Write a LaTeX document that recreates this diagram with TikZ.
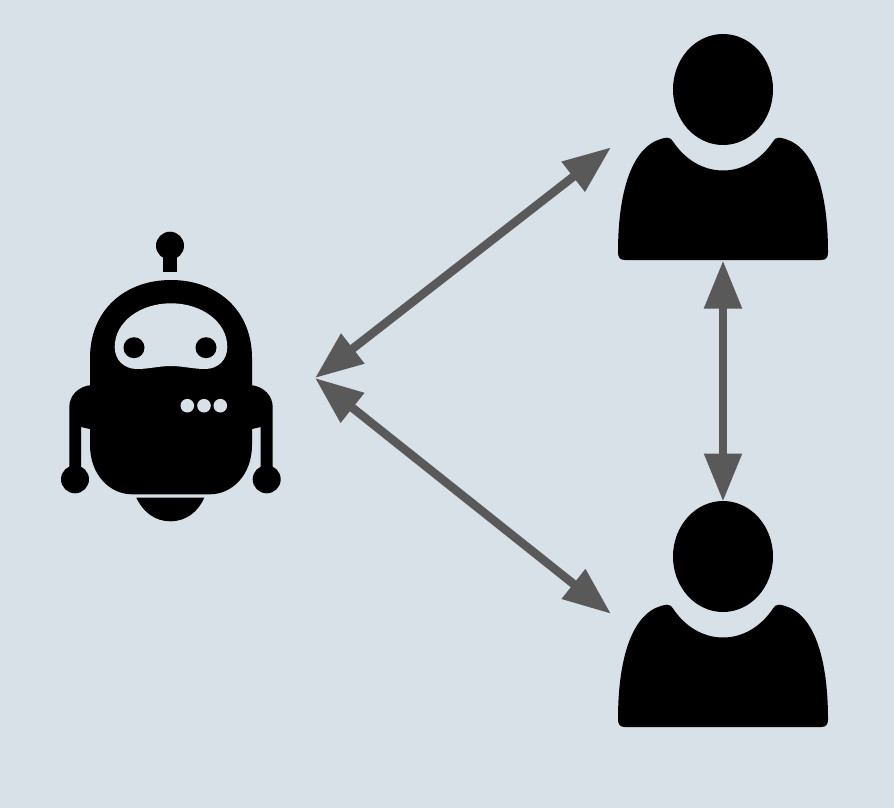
\documentclass[tikz,border=0pt]{standalone}
\usepackage{tikz}
\usetikzlibrary{arrows.meta}
\definecolor{bgblue}{HTML}{D8E1E8}
\definecolor{linegray}{HTML}{595959}

\begin{document}
\begin{tikzpicture}[x=1pt,y=-1pt]
\tikzstyle{line} = [draw=linegray, line width=8.5pt,
{Triangle[length=48pt,width=36pt]}-{Triangle[length=48pt,width=36pt]}];
\tikzstyle{icon} = [fill=black, draw=none];
\tikzstyle{cut} = [fill=bgblue, draw=none];

\fill [bgblue] (0,0) rectangle (894,808);
\useasboundingbox (0,0) rectangle (894,808);

% robot
\path [icon] (170,245.7) circle [radius=14];
\path [icon] (163.3,250) rectangle (176.7,272.3);
\path [icon] (90,358) .. controls (90,310) and (125,280) .. (171,280)
  .. controls (217,280) and (252,310) .. (252,358)
  -- (252,445) .. controls (252,475) and (232,494.3) .. (210,494.3)
  -- (132,494.3) .. controls (110,494.3) and (90,475) .. (90,445) -- cycle;
\path [cut] (114.7,347) .. controls (114.7,322) and (140,303.3) .. (171,303.3)
  .. controls (202,303.3) and (227.3,322) .. (227.3,347)
  .. controls (227.3,360) and (218,369) .. (205,369)
  .. controls (193,369) and (183,366) .. (171,366)
  .. controls (159,366) and (149,369) .. (137,369)
  .. controls (124,369) and (114.7,360) .. (114.7,347) -- cycle;
\path [icon] (134,347.7) circle [radius=10.5];
\path [icon] (206,347.7) circle [radius=10.5];
\foreach \dotx in {187.3,204,220.3}
  \path [cut] (\dotx,405.7) circle [radius=6.8];
% arms
\path [icon] (92,385) .. controls (78,386) and (69.3,396) .. (69.3,407)
  -- (69.3,470) -- (81,470) -- (81,427) -- (92,429.5) -- cycle;
\path [icon] (250,385) .. controls (264,386) and (272.7,396) .. (272.7,407)
  -- (272.7,470) -- (260.7,470) -- (260.7,427) -- (250,429.5) -- cycle;
\path [icon] (75,479.3) circle [radius=14];
\path [icon] (266.7,479.3) circle [radius=14];
\path [icon] (136.3,497.7) -- (204.3,497.7)
  .. controls (198,512) and (186,521.3) .. (170.3,521.3)
  .. controls (155,521.3) and (143,512) .. (136.3,497.7) -- cycle;

% users
\foreach \usery in {89.5,556.5} {
\path [icon] (723,\usery) ellipse [x radius=50, y radius=55.5];
\begin{scope}[shift={(723,\usery)}]
\path [icon] (-56,48.2) .. controls (-88,52) and (-105,95) .. (-105,163)
  .. controls (-105,168) and (-103,170.5) .. (-98,170.5)
  -- (98,170.5) .. controls (103,170.5) and (105,168) .. (105,163)
  .. controls (105,95) and (88,52) .. (56,48.2)
  .. controls (53,48) and (51,50) .. (50,52)
  .. controls (38,70) and (20,81) .. (0,81)
  .. controls (-20,81) and (-38,70) .. (-50,52)
  .. controls (-51,50) and (-53,48) .. (-56,48.2) -- cycle;
\end{scope}
}

\coordinate (robot_port) at (315,378);
\coordinate (user_top_side) at (611,147.3);
\coordinate (user_top_base) at (723,260.5);
\coordinate (user_low_head) at (723,501.5);
\coordinate (user_low_side) at (611,613.8);

\path [line] (robot_port) -- (user_top_side);
\path [line] (robot_port) -- (user_low_side);
\path [line] (user_top_base) -- (user_low_head);
\end{tikzpicture}
\end{document}
